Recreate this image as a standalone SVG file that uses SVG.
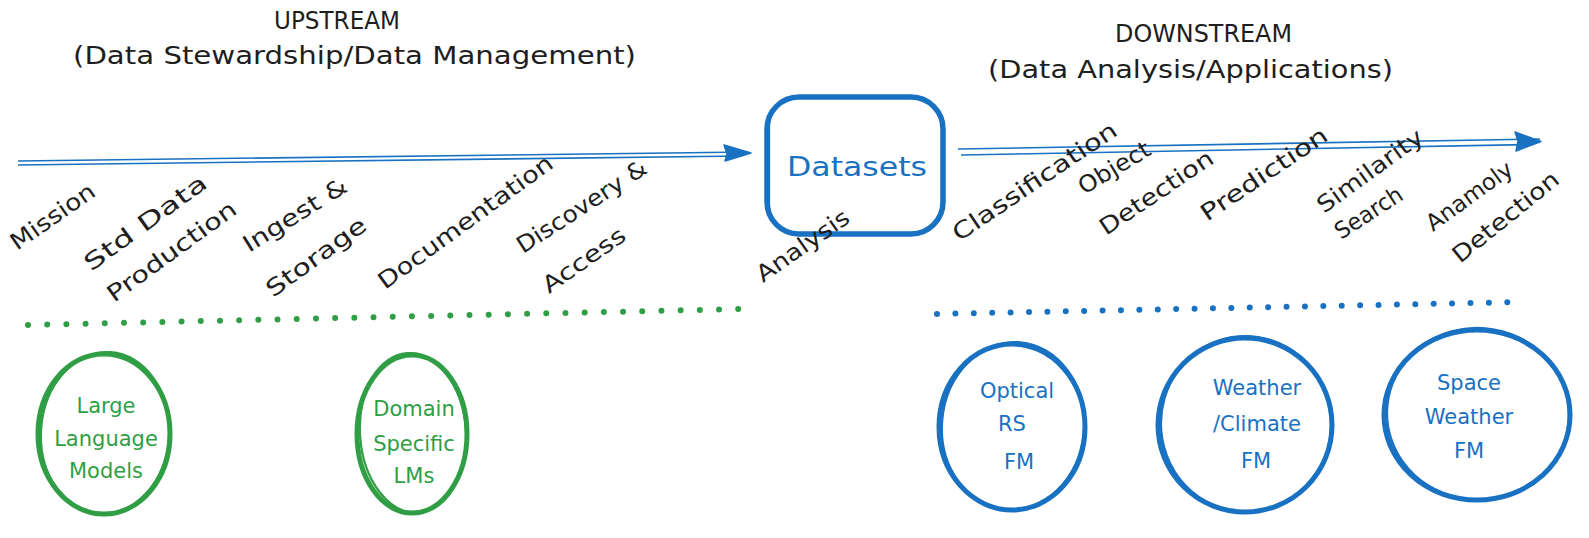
<svg xmlns="http://www.w3.org/2000/svg" width="1589" height="538" viewBox="0 0 1589 538">
  <defs>
    <style>
      text { font-family: "DejaVu Sans", "Liberation Sans", sans-serif; }
      .title { font-size: 25px; fill: #1e1e1e; }
      .lbl { font-size: 23px; fill: #1e1e1e; }
      .gtxt { font-size: 21px; fill: #2f9e44; text-anchor: middle; }
      .btxt { font-size: 21px; fill: #1971c2; text-anchor: middle; }
      .gring { fill: none; stroke: #2f9e44; stroke-width: 5; }
      .gring2 { fill: none; stroke: #2f9e44; stroke-width: 2.2; }
      .bring { fill: none; stroke: #1971c2; stroke-width: 5; }
      .bring2 { fill: none; stroke: #1971c2; stroke-width: 2.2; }
      .flow { fill: none; stroke: #1971c2; stroke-width: 1.6; }
      .head { fill: #1971c2; stroke: #1971c2; stroke-width: 1.5; stroke-linejoin: round; }
      .gdots { fill: none; stroke: #2f9e44; stroke-width: 6; stroke-linecap: round; stroke-dasharray: 0 19.2; }
      .bdots { fill: none; stroke: #1971c2; stroke-width: 6; stroke-linecap: round; stroke-dasharray: 0 18.4; }
    </style>
  </defs>
  <rect width="1589" height="538" fill="#ffffff"/>

  <!-- section titles -->
  <g id="title-upstream">
    <text class="title" x="274" y="29" textLength="126" lengthAdjust="spacingAndGlyphs">UPSTREAM</text>
    <text class="title" x="73" y="64" textLength="563" lengthAdjust="spacingAndGlyphs">(Data Stewardship/Data Management)</text>
  </g>
  <g id="title-downstream">
    <text class="title" x="1115" y="42" textLength="177" lengthAdjust="spacingAndGlyphs">DOWNSTREAM</text>
    <text class="title" x="988" y="78" textLength="405" lengthAdjust="spacingAndGlyphs">(Data Analysis/Applications)</text>
  </g>

  <!-- flow arrows and separators -->
  <g id="connectors">
    <path class="flow" d="M18 161 L748 152"/>
    <path class="flow" d="M18 165 L742 156"/>
    <path class="head" d="M751 153 L724 145 L727 153.5 L725 161 Z"/>

    <path class="flow" d="M958 149 L1540 139"/>
    <path class="flow" d="M961 155 L1532 144.5"/>
    <path class="head" d="M1541 141.5 L1515 132 L1518 141 L1516 151 Z"/>

    <path class="gdots" d="M28 325 L740 309"/>
    <path class="bdots" d="M937 314 L1525 302"/>
  </g>

  <!-- central dataset node -->
  <g id="datasets">
    <rect x="767" y="97" width="176" height="137" rx="32" fill="none" stroke="#1971c2" stroke-width="5.5"/>
    <rect x="769" y="96" width="173" height="139" rx="30" fill="none" stroke="#1971c2" stroke-width="2.2"/>
    <text class="btxt" x="857" y="176" style="font-size:26px" textLength="140" lengthAdjust="spacingAndGlyphs">Datasets</text>
  </g>

  <!-- upstream stage labels -->
  <g id="upstream-stages">
    <text class="lbl" transform="translate(17 251) rotate(-35)" textLength="98" lengthAdjust="spacingAndGlyphs">Mission</text>
    <text class="lbl" transform="translate(91 272) rotate(-36)" textLength="146" lengthAdjust="spacingAndGlyphs">Std Data</text>
    <text class="lbl" transform="translate(114 303) rotate(-36)" textLength="154" lengthAdjust="spacingAndGlyphs">Production</text>
    <text class="lbl" transform="translate(249 253) rotate(-32)" textLength="118" lengthAdjust="spacingAndGlyphs">Ingest &amp;</text>
    <text class="lbl" transform="translate(273 298) rotate(-36)" textLength="118" lengthAdjust="spacingAndGlyphs">Storage</text>
    <text class="lbl" transform="translate(385 290) rotate(-36)" textLength="210" lengthAdjust="spacingAndGlyphs">Documentation</text>
    <text class="lbl" transform="translate(523 254) rotate(-33)" textLength="150" lengthAdjust="spacingAndGlyphs">Discovery &amp;</text>
    <text class="lbl" transform="translate(549 294) rotate(-35)" textLength="96" lengthAdjust="spacingAndGlyphs">Access</text>
    <text class="lbl" transform="translate(763 283) rotate(-35)" textLength="108" lengthAdjust="spacingAndGlyphs">Analysis</text>
  </g>

  <!-- downstream application labels -->
  <g id="downstream-apps">
    <text class="lbl" transform="translate(959 242) rotate(-34)" textLength="193" lengthAdjust="spacingAndGlyphs">Classification</text>
    <text class="lbl" transform="translate(1084 195) rotate(-31)" textLength="80" lengthAdjust="spacingAndGlyphs">Object</text>
    <text class="lbl" transform="translate(1106 236) rotate(-34)" textLength="132" lengthAdjust="spacingAndGlyphs">Detection</text>
    <text class="lbl" transform="translate(1207 222) rotate(-34)" textLength="148" lengthAdjust="spacingAndGlyphs">Prediction</text>
    <text class="lbl" transform="translate(1324 214) rotate(-36)" textLength="125" lengthAdjust="spacingAndGlyphs">Similarity</text>
    <text class="lbl" transform="translate(1341 240) rotate(-33)" textLength="76" lengthAdjust="spacingAndGlyphs">Search</text>
    <text class="lbl" transform="translate(1433 232) rotate(-36)" textLength="101" lengthAdjust="spacingAndGlyphs">Anamoly</text>
    <text class="lbl" transform="translate(1460 264) rotate(-39)" textLength="130" lengthAdjust="spacingAndGlyphs">Detection</text>
  </g>

  <!-- language model nodes -->
  <g id="llm">
    <ellipse class="gring" cx="104" cy="434" rx="66" ry="80"/>
    <ellipse class="gring2" cx="105" cy="433" rx="64" ry="81" transform="rotate(4 105 433)"/>
    <text class="gtxt" x="106" y="413">Large</text>
    <text class="gtxt" x="106" y="446">Language</text>
    <text class="gtxt" x="106" y="478">Models</text>
  </g>
  <g id="domain-lm">
    <ellipse class="gring" cx="412" cy="434" rx="55" ry="79"/>
    <ellipse class="gring2" cx="413" cy="433" rx="53" ry="80" transform="rotate(-4 413 433)"/>
    <text class="gtxt" x="414" y="416">Domain</text>
    <text class="gtxt" x="414" y="451">Specific</text>
    <text class="gtxt" x="414" y="483">LMs</text>
  </g>

  <!-- foundation model nodes -->
  <g id="optical-fm">
    <ellipse class="bring" cx="1012" cy="427" rx="73" ry="83"/>
    <ellipse class="bring2" cx="1013" cy="426" rx="71" ry="84" transform="rotate(5 1013 426)"/>
    <text class="btxt" x="1017" y="398">Optical</text>
    <text class="btxt" x="1012" y="431">RS</text>
    <text class="btxt" x="1019" y="469">FM</text>
  </g>
  <g id="climate-fm">
    <ellipse class="bring" cx="1245" cy="425" rx="87" ry="87"/>
    <ellipse class="bring2" cx="1246" cy="424" rx="85" ry="88" transform="rotate(-5 1246 424)"/>
    <text class="btxt" x="1257" y="395">Weather</text>
    <text class="btxt" x="1257" y="431">/Climate</text>
    <text class="btxt" x="1256" y="468">FM</text>
  </g>
  <g id="space-weather-fm">
    <ellipse class="bring" cx="1477" cy="415" rx="93" ry="85"/>
    <ellipse class="bring2" cx="1478" cy="414" rx="91" ry="86" transform="rotate(5 1478 414)"/>
    <text class="btxt" x="1469" y="390">Space</text>
    <text class="btxt" x="1469" y="424">Weather</text>
    <text class="btxt" x="1469" y="458">FM</text>
  </g>
</svg>
